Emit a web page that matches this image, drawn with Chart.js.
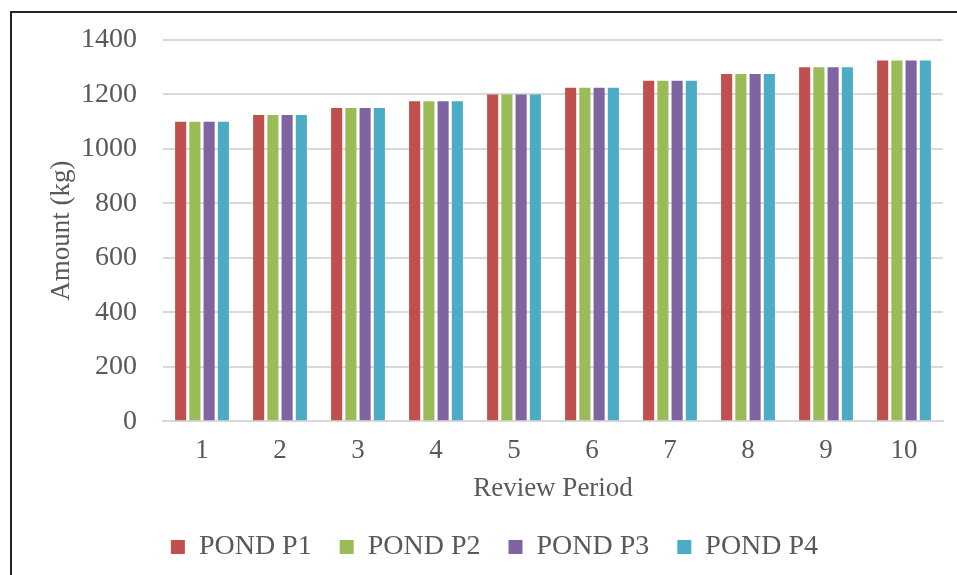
<!DOCTYPE html>
<html>
<head>
<meta charset="utf-8">
<script src="https://cdn.jsdelivr.net/npm/chart.js@4"></script>
<style>
html,body{margin:0;padding:0;background:#fff;}
#wrap{position:relative;width:957px;height:575px;overflow:hidden;}
#frame{position:absolute;left:10px;top:11px;width:960px;height:600px;border-left:2px solid #222;border-top:2px solid #222;box-sizing:border-box;}
#chart{position:absolute;left:0;top:0;}
</style>
</head>
<body>
<div id="wrap">
<div id="frame"></div>
<canvas id="chart" width="957" height="575"></canvas>
</div>
<script>
const periods = ["1","2","3","4","5","6","7","8","9","10"]
const pondP1 = [1100,1125,1150,1175,1200,1225,1250,1275,1300,1325]
const pondP2 = [1100,1125,1150,1175,1200,1225,1250,1275,1300,1325]
const pondP3 = [1100,1125,1150,1175,1200,1225,1250,1275,1300,1325]
const pondP4 = [1100,1125,1150,1175,1200,1225,1250,1275,1300,1325]
const seriesNames = ["POND P1","POND P2","POND P3","POND P4"]
const colors = ["#C0504D","#9BBB59","#8064A2","#4BACC6"]

const font = "'Liberation Serif', 'Times New Roman', serif"
const grey = "#595959"

const sets = [pondP1,pondP2,pondP3,pondP4].map((d,i)=>({
label:seriesNames[i],
data:d,
backgroundColor:colors[i],
barPercentage:0.78,
categoryPercentage:0.73
}))

new Chart(document.getElementById("chart"),{
type:"bar",
data:{labels:periods,datasets:sets},
options:{
responsive:false,
animation:false,
layout:{padding:{left:46,right:14,top:16,bottom:4}},
plugins:{
legend:{
position:"bottom",
labels:{
font:{family:font,size:28},
color:grey,
boxWidth:14,
boxHeight:14,
padding:28
}
},
tooltip:{enabled:false}
},
scales:{
x:{
grid:{display:false,drawTicks:false},
border:{color:"#d9d9d9",width:2},
ticks:{font:{family:font,size:27},color:grey,padding:14},
title:{display:true,text:"Review Period",font:{family:font,size:27},color:grey,padding:{top:-9,bottom:0}}
},
y:{
min:0,max:1400,
afterFit:s=>{s.width=117},
grid:{color:"#d9d9d9",lineWidth:2,drawTicks:false},
border:{display:false},
ticks:{stepSize:200,font:{family:font,size:28,lineHeight:1},color:grey,padding:26,callback:v=>String(v)},
title:{display:true,text:"Amount (kg)",font:{family:font,size:27},color:grey,padding:{top:0,bottom:8}}
}
}
}
})
</script>
</body>
</html>
